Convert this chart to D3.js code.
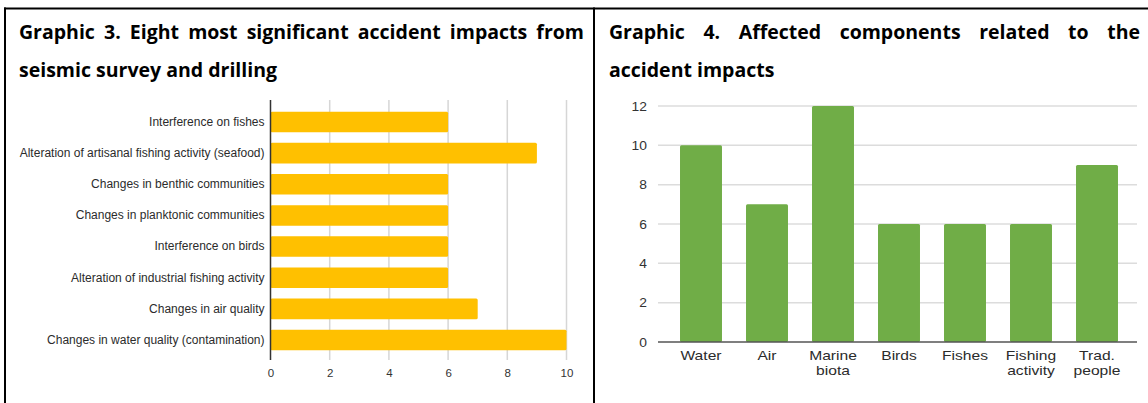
<!DOCTYPE html>
<html>
<head>
<meta charset="utf-8">
<script src="https://cdn.jsdelivr.net/npm/d3@7"></script>
<style>
  html, body { margin: 0; padding: 0; background: #fff; }
  svg { display: block; }
</style>
</head>
<body>
<svg id="chart" width="1148" height="403"></svg>
<script>
// ---- Data ----
const title3Line1 = "Graphic 3. Eight most significant accident impacts from";
const title3Line2 = "seismic survey and drilling";
const title4Line1 = "Graphic 4. Affected components related to the";
const title4Line2 = "accident impacts";

const impactLabels = [
  "Interference on fishes",
  "Alteration of artisanal fishing activity (seafood)",
  "Changes in benthic communities",
  "Changes in planktonic communities",
  "Interference on birds",
  "Alteration of industrial fishing activity",
  "Changes in air quality",
  "Changes in water quality (contamination)"
];
const impactValues = [6, 9, 6, 6, 6, 6, 7, 10];
const impactTicks = [0, 2, 4, 6, 8, 10];

const componentLabels = ["Water", "Air", "Marine\nbiota", "Birds", "Fishes", "Fishing\nactivity", "Trad.\npeople"];
const componentValues = [10, 7, 12, 6, 6, 6, 9];
const componentTicks = [0, 2, 4, 6, 8, 10, 12];

// ---- Setup ----
const svg = d3.select("#chart");
const titleFont = "'Open Sans', 'Noto Sans', sans-serif";
const titleSize = 19.5;
const axisFont = "'Liberation Sans', Arial, sans-serif";

// table borders
const frame = svg.append("g").attr("stroke", "#000").attr("stroke-width", 2);
frame.append("line").attr("x1", 4).attr("x2", 1148).attr("y1", 8.5).attr("y2", 8.5);
frame.append("line").attr("x1", 5).attr("x2", 5).attr("y1", 7.5).attr("y2", 403);
frame.append("line").attr("x1", 594).attr("x2", 594).attr("y1", 7.5).attr("y2", 403);

// justified title line
function justifiedLine(text, x0, x1, y) {
  const words = text.split(" ");
  const g = svg.append("g")
    .attr("font-family", titleFont).attr("font-weight", "bold")
    .attr("font-size", titleSize).attr("fill", "#000");
  const nodes = words.map(w => g.append("text").attr("y", y).text(w));
  const widths = nodes.map(n => n.node().getComputedTextLength());
  const total = d3.sum(widths);
  const gap = (x1 - x0 - total) / (words.length - 1);
  let x = x0;
  nodes.forEach((n, i) => { n.attr("x", x); x += widths[i] + gap; });
}
function plainLine(text, x0, y) {
  svg.append("text").attr("x", x0).attr("y", y)
    .attr("font-family", titleFont).attr("font-weight", "bold")
    .attr("font-size", titleSize).attr("fill", "#000").text(text);
}
justifiedLine(title3Line1, 19, 584, 39);
plainLine(title3Line2, 19, 77);
justifiedLine(title4Line1, 609, 1140, 39);
plainLine(title4Line2, 609, 77);

// ---- Left chart: horizontal bars ----
const xL = d3.scaleLinear().domain([0, 10]).range([270.5, 566.5]);
const yL = d3.scaleBand().domain(impactLabels).range([106.4, 355.6])
  .paddingInner(0.34).paddingOuter(0.17);

const gl = svg.append("g");
gl.append("g").selectAll("line").data(impactTicks.filter(d => d > 0)).join("line")
  .attr("x1", d => xL(d)).attr("x2", d => xL(d))
  .attr("y1", 100).attr("y2", 360)
  .attr("stroke", "#d6d6d6").attr("stroke-width", 1.5);
gl.append("g").selectAll("rect").data(impactValues).join("rect")
  .attr("x", xL(0))
  .attr("y", (d, i) => yL(impactLabels[i]))
  .attr("width", d => xL(d) - xL(0))
  .attr("height", yL.bandwidth())
  .attr("rx", 1.5)
  .attr("fill", "#FFC000");
gl.append("line").attr("x1", xL(0)).attr("x2", xL(0)).attr("y1", 100).attr("y2", 360)
  .attr("stroke", "#333").attr("stroke-width", 1.5);
const yAxisL = gl.append("g").attr("transform", `translate(${xL(0)},0)`)
  .call(d3.axisLeft(yL).tickSize(0).tickPadding(6));
yAxisL.select(".domain").remove();
yAxisL.selectAll("text").attr("font-family", axisFont).attr("font-size", 12).attr("fill", "#2b2b2b");
const xAxisL = gl.append("g").attr("transform", "translate(0,360)")
  .call(d3.axisBottom(xL).tickValues(impactTicks).tickSize(0).tickPadding(9).tickFormat(d3.format("d")));
xAxisL.select(".domain").remove();
xAxisL.selectAll("text").attr("font-family", axisFont).attr("font-size", 11.5).attr("fill", "#333");

// ---- Right chart: vertical bars ----
const xR = d3.scaleBand().domain(componentLabels).range([668, 1130])
  .paddingInner(0.364).paddingOuter(0.182);
const yR = d3.scaleLinear().domain([0, 12]).range([342, 106]);

const gr = svg.append("g");
gr.append("g").selectAll("line").data(componentTicks.filter(d => d > 0)).join("line")
  .attr("x1", 658).attr("x2", 1137)
  .attr("y1", d => yR(d)).attr("y2", d => yR(d))
  .attr("stroke", "#dcdcdc").attr("stroke-width", 1.5);
gr.append("g").selectAll("rect").data(componentValues).join("rect")
  .attr("x", (d, i) => xR(componentLabels[i]))
  .attr("y", d => yR(d))
  .attr("width", xR.bandwidth())
  .attr("height", d => yR(0) - yR(d))
  .attr("rx", 1.5)
  .attr("fill", "#70AD47");
gr.append("line").attr("x1", 658).attr("x2", 1137).attr("y1", yR(0)).attr("y2", yR(0))
  .attr("stroke", "#555").attr("stroke-width", 1.5);

const yAxisR = gr.append("g").attr("transform", "translate(658,0)")
  .call(d3.axisLeft(yR).tickValues(componentTicks).tickSize(0).tickPadding(10));
yAxisR.select(".domain").remove();
yAxisR.selectAll("text").attr("font-family", axisFont).attr("font-size", 12.6).attr("fill", "#333")
  .attr("transform", "scale(1.1,1)");

const xAxisR = gr.append("g").attr("transform", `translate(0,${yR(0)})`)
  .call(d3.axisBottom(xR).tickSize(0).tickPadding(0).tickFormat(""));
xAxisR.select(".domain").remove();
xAxisR.selectAll(".tick").each(function(d) {
  const t = d3.select(this).select("text")
    .attr("font-family", axisFont).attr("font-size", 12.8).attr("fill", "#2b2b2b")
    .attr("transform", "scale(1.22,1)").attr("dy", null).attr("y", 0);
  d.split("\n").forEach((line, i) => {
    t.append("tspan").attr("x", 0).attr("y", 18.5 + i * 15).text(line);
  });
});
</script>
</body>
</html>
